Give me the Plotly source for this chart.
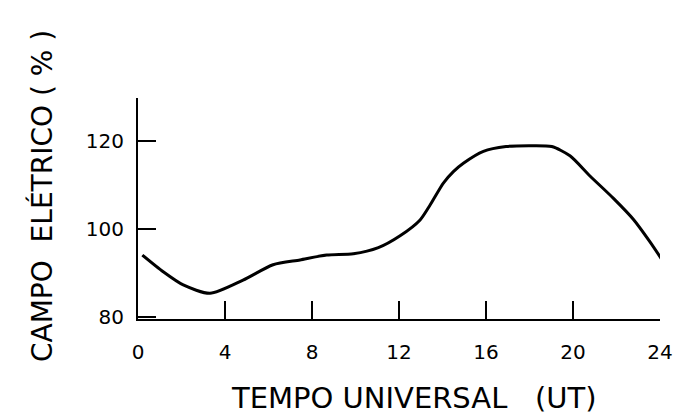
import plotly.graph_objects as go

# values
hours = [0.2, 1.16, 2.08, 3.31, 4.83, 6.21, 7.45, 8.68, 9.9, 11.05,
         12.05, 12.97, 13.43, 14.04, 14.5, 14.96, 15.88, 16.92, 18.02, 19.02,
         19.86, 20.78, 21.86, 22.78, 23.54, 24.15]
campo = [94.0, 90.2, 87.2, 85.3, 88.3, 91.8, 92.9, 94.0, 94.3, 95.7,
         98.4, 102.0, 105.4, 110.4, 113.0, 114.9, 117.6, 118.7, 118.9, 118.7,
         116.6, 112.0, 106.9, 102.1, 97.0, 92.5]

x_ticks = [0, 4, 8, 12, 16, 20, 24]
y_ticks = [80, 100, 120, 129.7]
y_labels = ["80", "100", "120", ""]

FONT = "DejaVu Sans"

fig = go.Figure()
fig.add_trace(go.Scatter(x=hours, y=campo, mode="lines",
                         line=dict(color="black", width=3, shape="spline", smoothing=0.7),
                         cliponaxis=False, showlegend=False, hoverinfo="skip"))

fig.update_xaxes(range=[0, 24], tickvals=x_ticks, ticktext=[str(t) for t in x_ticks],
                 ticks="inside", ticklen=18, tickwidth=2, tickcolor="black",
                 showline=True, linewidth=2, linecolor="black", automargin=False,
                 showgrid=False, zeroline=False, ticklabelstandoff=14,
                 tickfont=dict(family=FONT, size=20, color="black"))
fig.update_yaxes(range=[79.45, 129.75], tickvals=y_ticks, ticktext=y_labels,
                 ticks="inside", ticklen=18, tickwidth=2, tickcolor="black",
                 showline=True, linewidth=2, linecolor="black", automargin=False,
                 showgrid=False, zeroline=False, ticklabelstandoff=8,
                 tickfont=dict(family=FONT, size=20, color="black"))

# axis titles as annotations so they sit where the original has them
fig.add_annotation(text="TEMPO UNIVERSAL   (UT)", xref="paper", yref="paper",
                   x=(414 - 138) / 522, y=-(398 - 319) / 221, showarrow=False,
                   font=dict(family=FONT, size=29, color="black"),
                   xanchor="center", yanchor="middle")
fig.add_annotation(text="CAMPO  ELÉTRICO ( % )", xref="paper", yref="paper",
                   x=-(138 - 42) / 522, y=(319 - 196) / 221, showarrow=False,
                   textangle=-90, font=dict(family=FONT, size=28, color="black"),
                   xanchor="center", yanchor="middle")

fig.update_layout(width=683, height=414,
                  margin=dict(l=138, r=23, t=98, b=95, autoexpand=False),
                  plot_bgcolor="white", paper_bgcolor="white")

# the page body has a default 8px margin; drop it so the figure sits at 0,0
fig.write_html("out.html", config={"displayModeBar": False},
               post_script="document.body.style.margin='0';")
